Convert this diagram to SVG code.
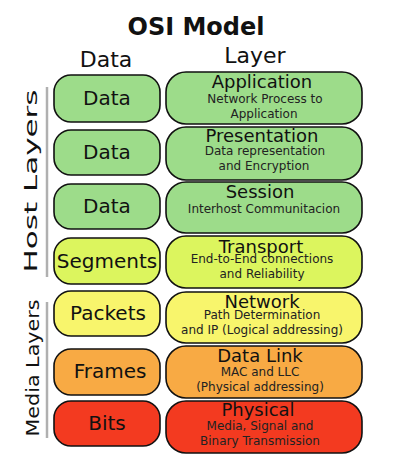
<svg xmlns="http://www.w3.org/2000/svg" width="404" height="467" viewBox="0 0 404 467">
<style>
text{font-family:"DejaVu Sans","Liberation Sans",sans-serif;fill:#111;text-anchor:middle}
.box{stroke:#111;stroke-width:1.6}
.g{fill:#9ddc8a}.yg{fill:#dcf55e}.y{fill:#f8f56c}.o{fill:#f8aa44}.r{fill:#f33a20}
.lbl{font-size:20px}
.ttl{font-size:18px}
.sub{font-size:12px;fill:#222}
.hdr{font-size:22px}
.side{font-size:18px}
.bar{stroke:#b0b0b0;stroke-width:2.5}
</style>
<text x="196" y="35" style="font-size:24px;font-weight:bold">OSI Model</text>
<text class="hdr" x="106" y="67">Data</text>
<text class="hdr" x="255" y="63">Layer</text>
<g id="side-labels">
<line class="bar" x1="47" y1="87" x2="47" y2="277"/>
<line class="bar" x1="47" y1="302" x2="47" y2="438"/>
<text class="side" transform="translate(37,181) rotate(-90)" textLength="183" lengthAdjust="spacingAndGlyphs">Host Layers</text>
<text class="side" transform="translate(39,368) rotate(-90)" textLength="137" lengthAdjust="spacingAndGlyphs">Media Layers</text>
</g>
<g id="d1"><rect class="box g" x="54" y="75" width="106" height="47" rx="17"/><text class="lbl" x="107" y="105">Data</text></g>
<g id="d2"><rect class="box g" x="54" y="130" width="106" height="45" rx="17"/><text class="lbl" x="107" y="159">Data</text></g>
<g id="d3"><rect class="box g" x="54" y="184" width="106" height="45" rx="17"/><text class="lbl" x="107" y="213">Data</text></g>
<g id="d4"><rect class="box yg" x="54" y="238" width="106" height="46" rx="17"/><text class="lbl" x="107" y="268">Segments</text></g>
<g id="d5"><rect class="box y" x="54" y="291" width="106" height="45" rx="17"/><text class="lbl" x="108" y="320">Packets</text></g>
<g id="d6"><rect class="box o" x="54" y="349" width="106" height="46" rx="17"/><text class="lbl" x="110" y="378">Frames</text></g>
<g id="d7"><rect class="box r" x="54" y="401" width="106" height="45" rx="17"/><text class="lbl" x="107" y="430">Bits</text></g>
<g id="l7"><rect class="box g" x="166" y="72" width="196" height="52" rx="20"/><text class="ttl" x="262" y="88">Application</text><text class="sub" x="265" y="103">Network Process to</text><text class="sub" x="264" y="118">Application</text></g>
<g id="l6"><rect class="box g" x="166" y="127" width="196" height="53" rx="20"/><text class="ttl" x="262" y="142">Presentation</text><text class="sub" x="265" y="155">Data representation</text><text class="sub" x="264" y="170">and Encryption</text></g>
<g id="l5"><rect class="box g" x="166" y="182" width="196" height="51" rx="20"/><text class="ttl" x="260" y="198">Session</text><text class="sub" x="264" y="213">Interhost Communitacion</text></g>
<g id="l4"><rect class="box yg" x="166" y="236" width="196" height="52" rx="20"/><text class="ttl" x="261" y="253">Transport</text><text class="sub" x="262" y="263">End-to-End connections</text><text class="sub" x="262" y="278">and Reliability</text></g>
<g id="l3"><rect class="box y" x="166" y="292" width="196" height="51" rx="20"/><text class="ttl" x="262" y="308">Network</text><text class="sub" x="262" y="319">Path Determination</text><text class="sub" x="262" y="334">and IP (Logical addressing)</text></g>
<g id="l2"><rect class="box o" x="166" y="346" width="196" height="52" rx="20"/><text class="ttl" x="260" y="362">Data Link</text><text class="sub" x="260" y="376">MAC and LLC</text><text class="sub" x="260" y="391">(Physical addressing)</text></g>
<g id="l1"><rect class="box r" x="166" y="401" width="196" height="52" rx="20"/><text class="ttl" x="258" y="416">Physical</text><text class="sub" x="260" y="430">Media, Signal and</text><text class="sub" x="260" y="445">Binary Transmission</text></g>
</svg>
